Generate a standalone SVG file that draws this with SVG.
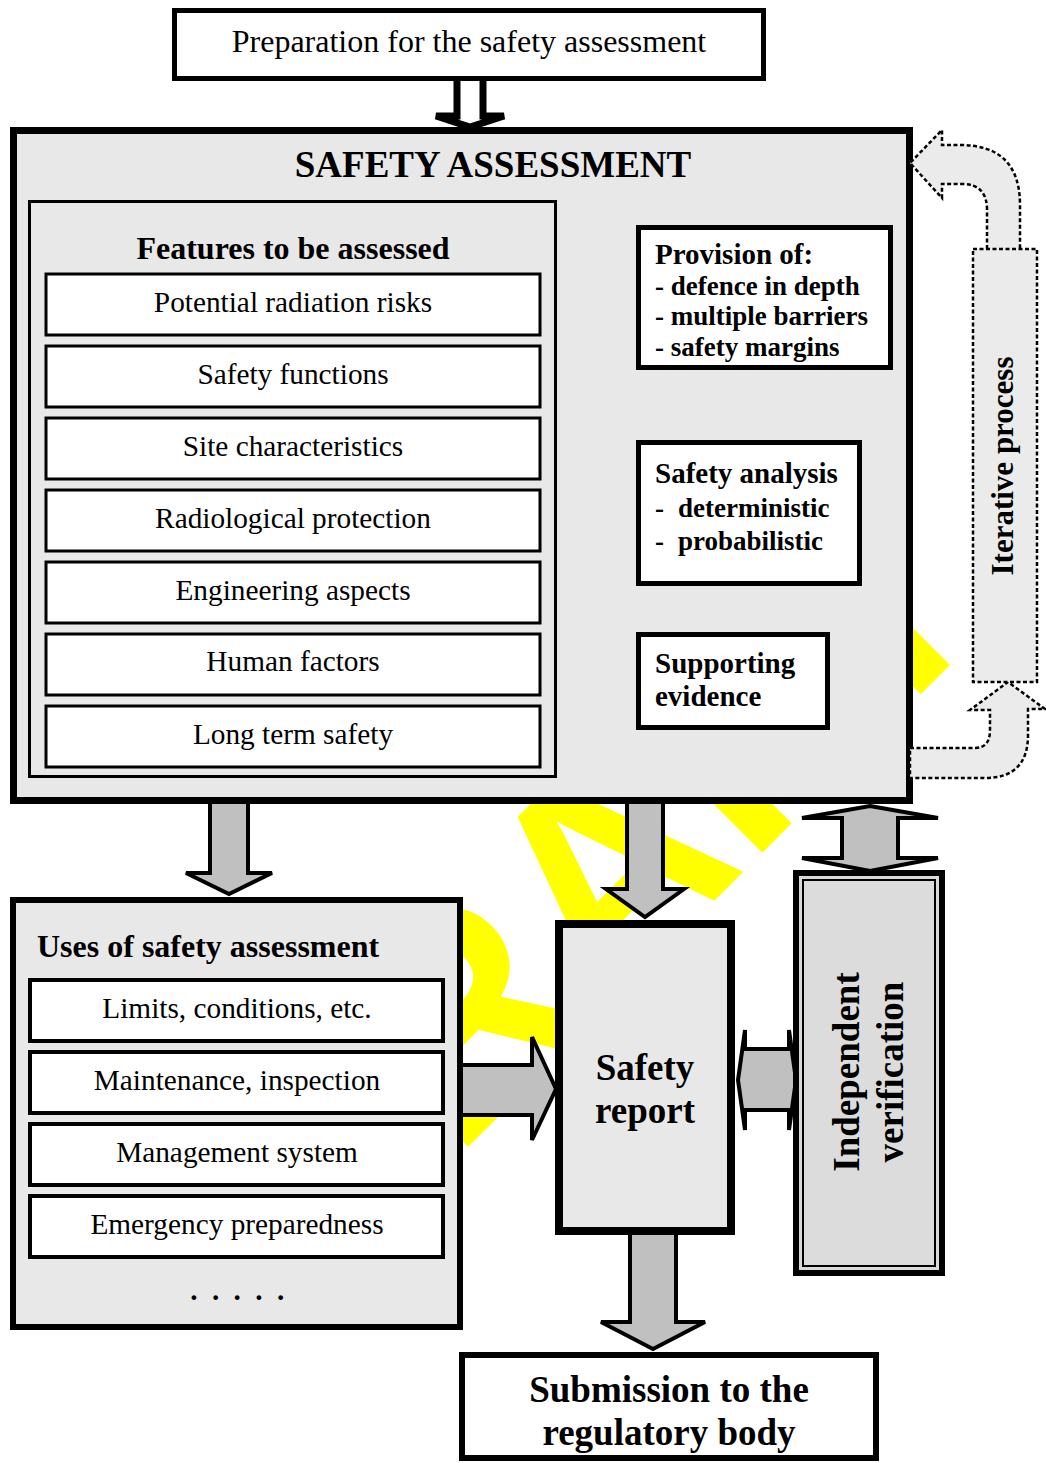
<svg xmlns="http://www.w3.org/2000/svg" width="1046" height="1463" viewBox="0 0 1046 1463">
  <style>
    .serif { font-family: "Liberation Serif", "Times New Roman", serif; fill: #000; }
    .b { font-weight: bold; }
    .mid { text-anchor: middle; }
    .item { font-size: 29.3px; }
    .head { font-size: 32px; font-weight: bold; }
    .big { font-size: 37px; font-weight: bold; }
    .side { font-size: 29px; font-weight: bold; }
    .sub { font-size: 27px; font-weight: bold; }
    .panel { fill: #e8e8e8; stroke: #000; }
    .white { fill: #fff; stroke: #000; }
    .garrow { fill: #c0c0c0; stroke: #000; stroke-width: 4; stroke-linejoin: miter; }
    .warrow { fill: #fff; stroke: #000; stroke-width: 5; stroke-linejoin: miter; }
    .dash { fill: #ebebeb; stroke: #000; stroke-width: 2.5; stroke-dasharray: 4 2.5; }
    .wm { font-family: "Liberation Sans", Arial, sans-serif; font-weight: bold; font-size: 288px; fill: #ffff00; }
  </style>

  <!-- background watermark -->
  <text class="wm" transform="translate(307.5,1307.5) rotate(-45)">DRAFT</text>

  <!-- connectors -->
  <g id="connectors">
    <path class="warrow" style="stroke-width:7" d="M457 78 V116 H436 L470 127 L504 116 H483 V78"/>
    <path class="garrow" d="M210 801 V873 H186 L229 894 L272 873 H248 V801 Z"/>
    <path class="garrow" d="M627 801 V889 H606 L645 917 L684 889 H663 V801 Z"/>
    <path class="garrow" d="M461 1065 H532 V1037 L556 1089 L532 1140 V1115 H461 Z"/>
    <path class="garrow" d="M738 1080 L745 1030 V1049 H789 V1030 L796 1080 L789 1130 V1110 H745 V1130 Z"/>
    <path class="garrow" d="M870 806 L938 818 H898 V858 H938 L870 871 L802 858 H842 V818 H802 Z"/>
    <path class="garrow" d="M630 1233 V1322 H601 L653 1349 L705 1322 H676 V1233 Z"/>
    <path class="warrow" d="M638 285.5 H578 V270 L559 297.5 L578 325 V309.5 H638"/>
    <path class="warrow" d="M638 500.5 H578 V485 L559 512.5 L578 540 V524.5 H638"/>
    <path class="warrow" d="M638 671.5 H578 V656 L559 683.5 L578 711 V695.5 H638"/>
  </g>

  <!-- top node -->
  <g id="preparation">
    <rect class="white" x="174.5" y="10.5" width="589" height="68" stroke-width="5"/>
    <text class="serif mid" x="469" y="52" font-size="32">Preparation for the safety assessment</text>
  </g>

  <!-- main assessment panel -->
  <g id="safety-assessment">
    <rect class="panel" x="13.5" y="130.5" width="896" height="670" stroke-width="7"/>
    <text class="serif mid big" x="493" y="177">SAFETY ASSESSMENT</text>
  </g>

  <g id="features">
    <rect class="panel" x="29.5" y="201.5" width="526" height="575" stroke-width="3" stroke="#222"/>
    <text class="serif mid head" x="293" y="259">Features to be assessed</text>
    <g class="serif mid item">
      <rect class="white" x="46" y="274" width="494" height="61" stroke-width="3"/>
      <text x="293" y="312">Potential radiation risks</text>
      <rect class="white" x="46" y="346" width="494" height="61" stroke-width="3"/>
      <text x="293" y="384">Safety functions</text>
      <rect class="white" x="46" y="418" width="494" height="61" stroke-width="3"/>
      <text x="293" y="456">Site characteristics</text>
      <rect class="white" x="46" y="490" width="494" height="61" stroke-width="3"/>
      <text x="293" y="528">Radiological protection</text>
      <rect class="white" x="46" y="562" width="494" height="61" stroke-width="3"/>
      <text x="293" y="600">Engineering aspects</text>
      <rect class="white" x="46" y="634" width="494" height="61" stroke-width="3"/>
      <text x="293" y="671">Human factors</text>
      <rect class="white" x="46" y="706" width="494" height="61" stroke-width="3"/>
      <text x="293" y="744">Long term safety</text>
    </g>
  </g>

  <g id="provision">
    <rect class="white" x="638.5" y="227.5" width="252" height="140" stroke-width="5"/>
    <text class="serif side" x="655" y="264">Provision of:</text>
    <text class="serif sub" x="655" y="295">- defence in depth</text>
    <text class="serif sub" x="655" y="325">- multiple barriers</text>
    <text class="serif sub" x="655" y="356">- safety margins</text>
  </g>

  <g id="safety-analysis">
    <rect class="white" x="638.5" y="442.5" width="221" height="141" stroke-width="5"/>
    <text class="serif side" x="655" y="483">Safety analysis</text>
    <text class="serif sub" y="517"><tspan x="655">-</tspan><tspan x="678">deterministic</tspan></text>
    <text class="serif sub" y="550"><tspan x="655">-</tspan><tspan x="678">probabilistic</tspan></text>
  </g>

  <g id="supporting-evidence">
    <rect class="white" x="638.5" y="634.5" width="189" height="93" stroke-width="5"/>
    <text class="serif side" x="655" y="673">Supporting</text>
    <text class="serif side" x="655" y="706">evidence</text>
  </g>

  <!-- iteration loop on the right -->
  <g id="iterative-process">
    <path class="dash" d="M987 249 V210 Q987 184 962 184 H942 V198 L910 163 L942 130 V145 H960 Q1020 145 1020 205 V249"/>
    <path class="dash" d="M910 748 H975 Q990 748 990 730 V710 H970 L1008 682 L1045 709 H1028 V735 Q1028 778 985 778 H910 Z"/>
    <rect class="dash" x="973" y="249" width="64" height="433"/>
    <text class="serif mid b" font-size="31" transform="translate(1013,466) rotate(-90)">Iterative process</text>
  </g>

  <g id="uses">
    <rect class="panel" x="13" y="900" width="447" height="427" stroke-width="6"/>
    <text class="serif head" x="37" y="957">Uses of safety assessment</text>
    <g class="serif mid item">
      <rect class="white" x="30" y="980" width="413" height="61" stroke-width="4"/>
      <text x="237" y="1018">Limits, conditions, etc.</text>
      <rect class="white" x="30" y="1052" width="413" height="61" stroke-width="4"/>
      <text x="237" y="1090">Maintenance, inspection</text>
      <rect class="white" x="30" y="1124" width="413" height="61" stroke-width="4"/>
      <text x="237" y="1162">Management system</text>
      <rect class="white" x="30" y="1196" width="413" height="61" stroke-width="4"/>
      <text x="237" y="1234">Emergency preparedness</text>
      <text x="239" y="1300" font-weight="bold" letter-spacing="3.5">. . . . .</text>
    </g>
  </g>

  <g id="safety-report">
    <rect class="panel" x="559" y="924" width="172" height="307" stroke-width="8"/>
    <text class="serif mid big" x="645" y="1080">Safety</text>
    <text class="serif mid big" x="645" y="1123">report</text>
  </g>

  <g id="independent-verification">
    <rect x="796" y="873" width="146" height="400" fill="#d9d9d9" stroke="#000" stroke-width="6"/>
    <rect x="803" y="880" width="132" height="386" fill="#dcdcdc" stroke="#000" stroke-width="2"/>
    <text class="serif mid big" transform="translate(859,1072) rotate(-90)">Independent</text>
    <text class="serif mid big" transform="translate(903,1072) rotate(-90)">verification</text>
  </g>

  <g id="submission">
    <rect class="white" x="462" y="1355" width="414" height="103" stroke-width="6"/>
    <text class="serif mid big" x="669" y="1402">Submission to the</text>
    <text class="serif mid big" x="669" y="1445">regulatory body</text>
  </g>
</svg>
